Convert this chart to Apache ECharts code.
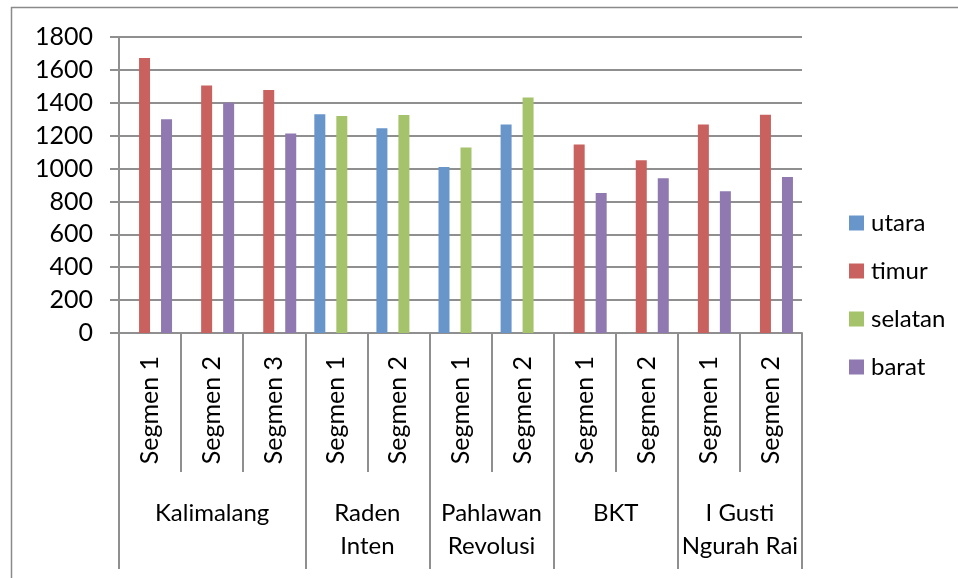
<!DOCTYPE html>
<html>
<head>
<meta charset="utf-8">
<title>Volume per segmen</title>
<script src="https://cdn.jsdelivr.net/npm/echarts@6/dist/echarts.min.js"></script>
<style>
  html, body { margin: 0; padding: 0; background: #ffffff; }
  #chart { width: 958px; height: 578px; }
</style>
</head>
<body>
<div id="chart"></div>
<script>
// Segment labels along the category axis
const segments = ['Segmen 1', 'Segmen 2', 'Segmen 3', 'Segmen 1', 'Segmen 2', 'Segmen 1', 'Segmen 2', 'Segmen 1', 'Segmen 2', 'Segmen 1', 'Segmen 2'];
// Road names and how many segments each one covers
const roads = ['Kalimalang', 'Raden\nInten', 'Pahlawan\nRevolusi', 'BKT', 'I Gusti\nNgurah Rai'];
const roadSpans = [3, 2, 2, 2, 2];

// Values per direction
const utara   = [null, null, null, 1330, 1245, 1010, 1268, null, null, null, null];
const timur   = [1672, 1505, 1478, null, null, null, null, 1147, 1050, 1268, 1327];
const selatan = [null, null, null, 1320, 1326, 1128, 1432, null, null, null, null];
const barat   = [1300, 1400, 1213, null, null, null, null, 851, 941, 862, 948];

const yMax = 1800;
const yStep = 200;

// Road boundaries and label centres on a 0..n scale
const bounds = [0];
roadSpans.forEach(s => bounds.push(bounds[bounds.length - 1] + s));
const centres = roadSpans.map((s, i) => bounds[i] + s / 2);

const font = 'Lato, "Open Sans", sans-serif';
const gridGray = '#8f8f8f';
const textColor = '#000000';

const seriesDefs = [
  { name: 'utara', data: utara, color: '#6896CB' },
  { name: 'timur', data: timur, color: '#C9625F' },
  { name: 'selatan', data: selatan, color: '#A5C36A' },
  { name: 'barat', data: barat, color: '#8F79B0' }
];

const chart = echarts.init(document.getElementById('chart'), null, { renderer: 'canvas' });

chart.setOption({
  animation: false,
  backgroundColor: '#ffffff',
  textStyle: { fontFamily: font },
  graphic: [{
    type: 'rect',
    shape: { x: 11.5, y: 7.5, width: 1000, height: 700 },
    style: { fill: 'none', stroke: '#8a8a8a', lineWidth: 1.5 },
    silent: true,
    z: -1
  }],
  grid: { left: 119, right: 156, top: 37, height: 296, containLabel: false },
  legend: {
    orient: 'vertical',
    left: 844,
    top: 206,
    icon: 'rect',
    itemWidth: 15,
    itemHeight: 15,
    itemGap: 24,
    textStyle: { fontFamily: font, fontSize: 24, color: textColor, lineHeight: 24, padding: [0, 0, 0, 2] },
    data: seriesDefs.map(s => s.name)
  },
  xAxis: [
    {
      type: 'category',
      data: segments,
      boundaryGap: true,
      axisLine: { show: true, lineStyle: { color: gridGray, width: 2 } },
      axisTick: { show: true, interval: 0, length: 139, lineStyle: { color: gridGray, width: 2 } },
      axisLabel: {
        interval: 0,
        rotate: 90,
        margin: 23,
        fontFamily: font,
        fontSize: 25,
        color: textColor
      }
    },
    {
      type: 'value',
      position: 'bottom',
      min: 0,
      max: bounds[bounds.length - 1],
      axisLine: { show: false },
      splitLine: { show: false },
      axisTick: {
        show: true,
        customValues: bounds,
        length: 236,
        lineStyle: { color: gridGray, width: 2 }
      },
      axisLabel: {
        customValues: centres,
        margin: 164,
        fontFamily: font,
        fontSize: 24,
        lineHeight: 33,
        color: textColor,
        verticalAlign: 'top',
        formatter: v => {
          const i = centres.findIndex(c => Math.abs(c - v) < 1e-6);
          return i >= 0 ? roads[i] : '';
        }
      }
    }
  ],
  yAxis: {
    type: 'value',
    min: 0,
    max: yMax,
    interval: yStep,
    axisLine: { show: true, lineStyle: { color: gridGray, width: 2 } },
    axisTick: { show: true, length: 9, lineStyle: { color: gridGray, width: 2 } },
    splitLine: { show: true, lineStyle: { color: gridGray, width: 2 } },
    axisLabel: { margin: 26, fontFamily: font, fontSize: 25, color: textColor, formatter: v => String(v) }
  },
  series: seriesDefs.map(s => ({
    name: s.name,
    type: 'bar',
    xAxisIndex: 0,
    data: s.data,
    barWidth: 11,
    barGap: '0%',
    itemStyle: { color: s.color }
  }))
});
</script>
</body>
</html>
